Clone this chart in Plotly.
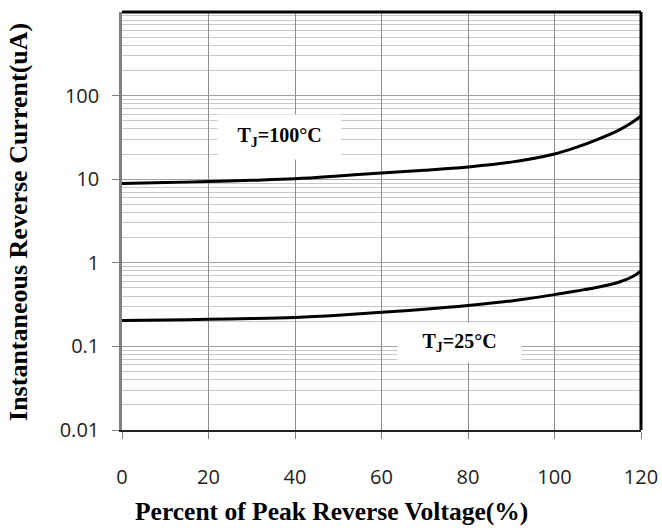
import plotly.graph_objects as go

# Data
pct = [0, 10, 20, 30, 40, 50, 60, 70, 80, 90, 100, 105, 110, 115, 118, 120]
i_100c = [8.9, 9.1, 9.4, 9.7, 10.1, 10.9, 11.9, 12.8, 14.0, 16.0, 20.0, 24.0, 30.0, 39.0, 48.0, 57.0]
i_25c = [0.204, 0.207, 0.211, 0.215, 0.222, 0.236, 0.256, 0.278, 0.308, 0.350, 0.416, 0.46, 0.51, 0.59, 0.68, 0.80]

x_ticks = [0, 20, 40, 60, 80, 100, 120]
y_ticks = [0.01, 0.1, 1, 10, 100]
y_tick_text = ["0.01", "0.1", "1", "10", "100"]

minor_vals = [m * 10 ** e for e in range(-2, 3) for m in range(2, 10)]

serif = "Liberation Serif, Times New Roman, serif"
sans = "Open Sans, Noto Sans, sans-serif"

fig = go.Figure()
fig.add_trace(go.Scatter(x=pct, y=i_100c, mode="lines", line=dict(color="black", width=3, shape="spline"),
                         showlegend=False, hoverinfo="skip"))
fig.add_trace(go.Scatter(x=pct, y=i_25c, mode="lines", line=dict(color="black", width=3, shape="spline"),
                         showlegend=False, hoverinfo="skip"))

fig.update_layout(
    width=662, height=528,
    margin=dict(l=122, r=21, t=12, b=98),
    plot_bgcolor="white", paper_bgcolor="white",
    xaxis=dict(
        range=[0, 120], tickvals=x_ticks, ticktext=[str(v) for v in x_ticks],
        showgrid=True, gridcolor="#8c8c8c", gridwidth=1,
        showline=True, linecolor="#222222", linewidth=2,
        ticks="outside", ticklen=7, tickcolor="#808080", tickwidth=1,
        ticklabelstandoff=21,
        tickfont=dict(family=sans, size=20, color="#222"),
        zeroline=False, automargin=False,
    ),
    yaxis=dict(
        type="log", range=[-2, 3], tickvals=y_ticks, ticktext=y_tick_text,
        showgrid=True, gridcolor="#a0a0a0", gridwidth=1,
        minor=dict(tickvals=minor_vals, showgrid=True, gridcolor="#c8c8c8", gridwidth=1, ticks=""),
        showline=True, linecolor="#808080", linewidth=2.5,
        ticks="outside", ticklen=7, tickcolor="#808080", tickwidth=1,
        ticklabelstandoff=9,
        tickfont=dict(family=sans, size=20, color="#222"),
        zeroline=False, automargin=False,
    ),
    shapes=[
        dict(type="line", xref="paper", yref="paper", x0=0, x1=1, y0=1, y1=1,
             line=dict(color="black", width=3)),
        dict(type="line", xref="paper", yref="paper", x0=1, x1=1, y0=0, y1=1,
             line=dict(color="black", width=3)),
    ],
    annotations=[
        dict(x=0.403, y=-0.196, xref="paper", yref="paper", xanchor="center", yanchor="middle",
             text="<b>Percent of Peak Reverse Voltage(%)</b>", showarrow=False,
             font=dict(family=serif, size=25.5, color="black")),
        dict(x=-0.199, y=0.497, xref="paper", yref="paper", xanchor="center", yanchor="middle",
             text="<b>Instantaneous Reverse Current(uA)</b>", showarrow=False, textangle=-90,
             font=dict(family=serif, size=26, color="black")),
        dict(x=36.5, y=1.51, xref="x", yref="y", text="<b>T<sub>J</sub>=100°C</b>",
             showarrow=False, bgcolor="white", width=115, height=36, borderpad=4,
             font=dict(family=serif, size=20, color="black")),
        dict(x=78, y=-0.95, xref="x", yref="y", text="<b>T<sub>J</sub>=25°C</b>",
             showarrow=False, bgcolor="white", width=115, height=31, borderpad=4,
             font=dict(family=serif, size=20, color="black")),
    ],
)

fig.write_html("out.html", config={"displayModeBar": False},
               post_script="document.body.style.margin='0';")
